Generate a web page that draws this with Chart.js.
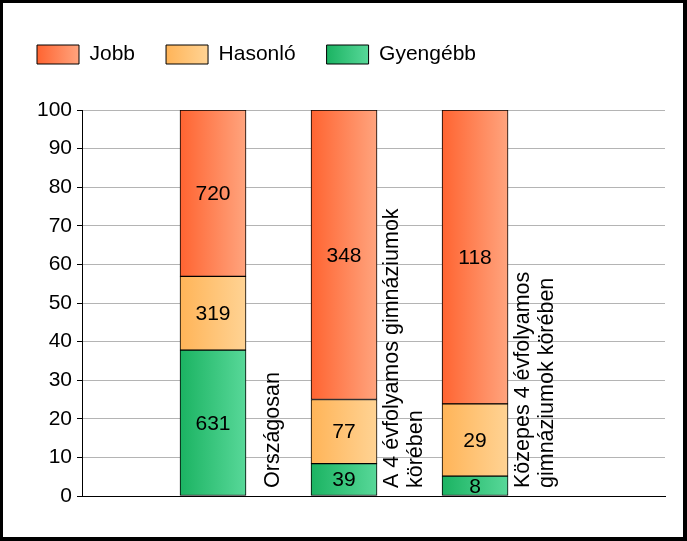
<!DOCTYPE html>
<html lang="hu">
<head>
  <meta charset="UTF-8">
  <title>Jobb / Hasonló / Gyengébb</title>
  <script src="https://cdn.jsdelivr.net/npm/chart.js"></script>
  <style>
    body { margin: 0; background: #fff; }
    canvas { display: block; }
  </style>
</head>
<body>
  <canvas id="chart" width="687" height="541"></canvas>

  <script>
    // data (counts per group)
    const categories = [
      ['Országosan'],
      ['A 4 évfolyamos gimnáziumok', 'körében'],
      ['Közepes 4 évfolyamos', 'gimnáziumok körében']
    ];
    const jobb = [720, 348, 118];
    const hasonlo = [319, 77, 29];
    const gyengebb = [631, 39, 8];
    const yTicks = [0, 10, 20, 30, 40, 50, 60, 70, 80, 90, 100];

    const FONT = 'Liberation Sans, Arial, sans-serif';
    const BAR_W = 66;
    Chart.defaults.font.family = FONT;
    Chart.defaults.color = '#000';

    const totals = jobb.map((v, i) => v + hasonlo[i] + gyengebb[i]);
    const toPct = arr => arr.map((v, i) => ({ x: i + 1, y: v / totals[i] * 100 }));

    const gradients = {
      'Gyengébb': ['#1bb362', '#58d899'],
      'Hasonló': ['#ffb458', '#ffd394'],
      'Jobb': ['#ff6431', '#ffa47e']
    };

    function barFill(c) {
      const cols = gradients[c.dataset.label];
      if (c.dataIndex === undefined || !c.chart.chartArea) return cols[0];
      const x = c.chart.scales.x.getPixelForValue(c.dataIndex + 1);
      const g = c.chart.ctx.createLinearGradient(x - BAR_W / 2, 0, x + BAR_W / 2, 0);
      g.addColorStop(0, cols[0]);
      g.addColorStop(1, cols[1]);
      return g;
    }

    function makeSet(label, counts) {
      return {
        label: label,
        counts: counts,
        data: toPct(counts),
        backgroundColor: barFill,
        borderColor: '#000',
        borderWidth: 1,
        borderSkipped: false,
        barThickness: BAR_W
      };
    }

    const extras = {
      id: 'extras',
      beforeUpdate(chart) {
        // leave a gap between the legend and the plot
        const lg = chart.legend;
        if (lg && !lg._patched) {
          const fit = lg.fit;
          lg.fit = function () { fit.call(this); this.height += 35; };
          lg._patched = true;
        }
      },
      afterUpdate(chart) {
        const lg = chart.legend;
        if (!lg || !lg.legendItems) return;
        lg.legendItems.forEach((item, i) => {
          const hb = lg.legendHitBoxes[i];
          const cols = gradients[item.text];
          const g = chart.ctx.createLinearGradient(hb.left, 0, hb.left + 42, 0);
          g.addColorStop(0, cols[0]);
          g.addColorStop(1, cols[1]);
          item.fillStyle = g;
        });
      },
      afterDatasetsDraw(chart) {
        const ctx = chart.ctx;
        ctx.save();
        ctx.fillStyle = '#000';
        ctx.font = '21px ' + FONT;
        ctx.textAlign = 'center';
        ctx.textBaseline = 'middle';
        chart.data.datasets.forEach((ds, d) => {
          chart.getDatasetMeta(d).data.forEach((el, i) => {
            const p = el.getProps(['x', 'y', 'base'], true);
            ctx.fillText(ds.counts[i], p.x, (p.y + p.base) / 2 + 1);
          });
        });

        // category names, rotated, to the right of each bar
        const bottom = chart.chartArea.bottom - 8;
        ctx.font = '21.5px ' + FONT;
        ctx.textAlign = 'left';
        chart.getDatasetMeta(0).data.forEach((el, i) => {
          const lines = categories[i];
          const cx = el.x + BAR_W / 2 + 27;
          ctx.save();
          ctx.translate(cx, bottom);
          ctx.rotate(-Math.PI / 2);
          lines.forEach((t, k) => ctx.fillText(t, 0, (k - (lines.length - 1) / 2) * 24));
          ctx.restore();
        });
        ctx.restore();
      },
      afterDraw(chart) {
        const ctx = chart.ctx;
        ctx.save();
        ctx.fillStyle = '#000';
        ctx.fillRect(0, 0, 687, 3);
        ctx.fillRect(0, 0, 3, 541);
        ctx.fillRect(683, 0, 4, 541);
        ctx.fillRect(0, 537, 687, 4);
        ctx.restore();
      }
    };

    new Chart(document.getElementById('chart'), {
      type: 'bar',
      data: {
        datasets: [
          makeSet('Gyengébb', gyengebb),
          makeSet('Hasonló', hasonlo),
          makeSet('Jobb', jobb)
        ]
      },
      options: {
        responsive: false,
        animation: false,
        layout: { padding: { left: 6, top: 13, right: 22, bottom: 37 } },
        plugins: {
          legend: {
            position: 'top',
            align: 'start',
            reverse: true,
            labels: {
              boxWidth: 42,
              boxHeight: 19,
              padding: 31,
              font: { size: 21 },
              color: '#000'
            }
          },
          tooltip: { enabled: false }
        },
        scales: {
          x: {
            type: 'linear',
            stacked: true,
            offset: false,
            min: 0,
            max: 4.45,
            ticks: { display: false },
            grid: { display: false },
            border: { color: '#000', width: 1 }
          },
          y: {
            stacked: true,
            min: 0,
            max: 100,
            afterBuildTicks: s => { s.ticks = yTicks.map(v => ({ value: v })); },
            afterFit: s => { s.width = 76; },
            ticks: { font: { size: 21 }, color: '#000', padding: 5 },
            grid: { color: '#b4b4b4', tickColor: '#000', tickLength: 5 },
            border: { color: '#000', width: 1 }
          }
        }
      },
      plugins: [extras]
    });
  </script>
</body>
</html>
